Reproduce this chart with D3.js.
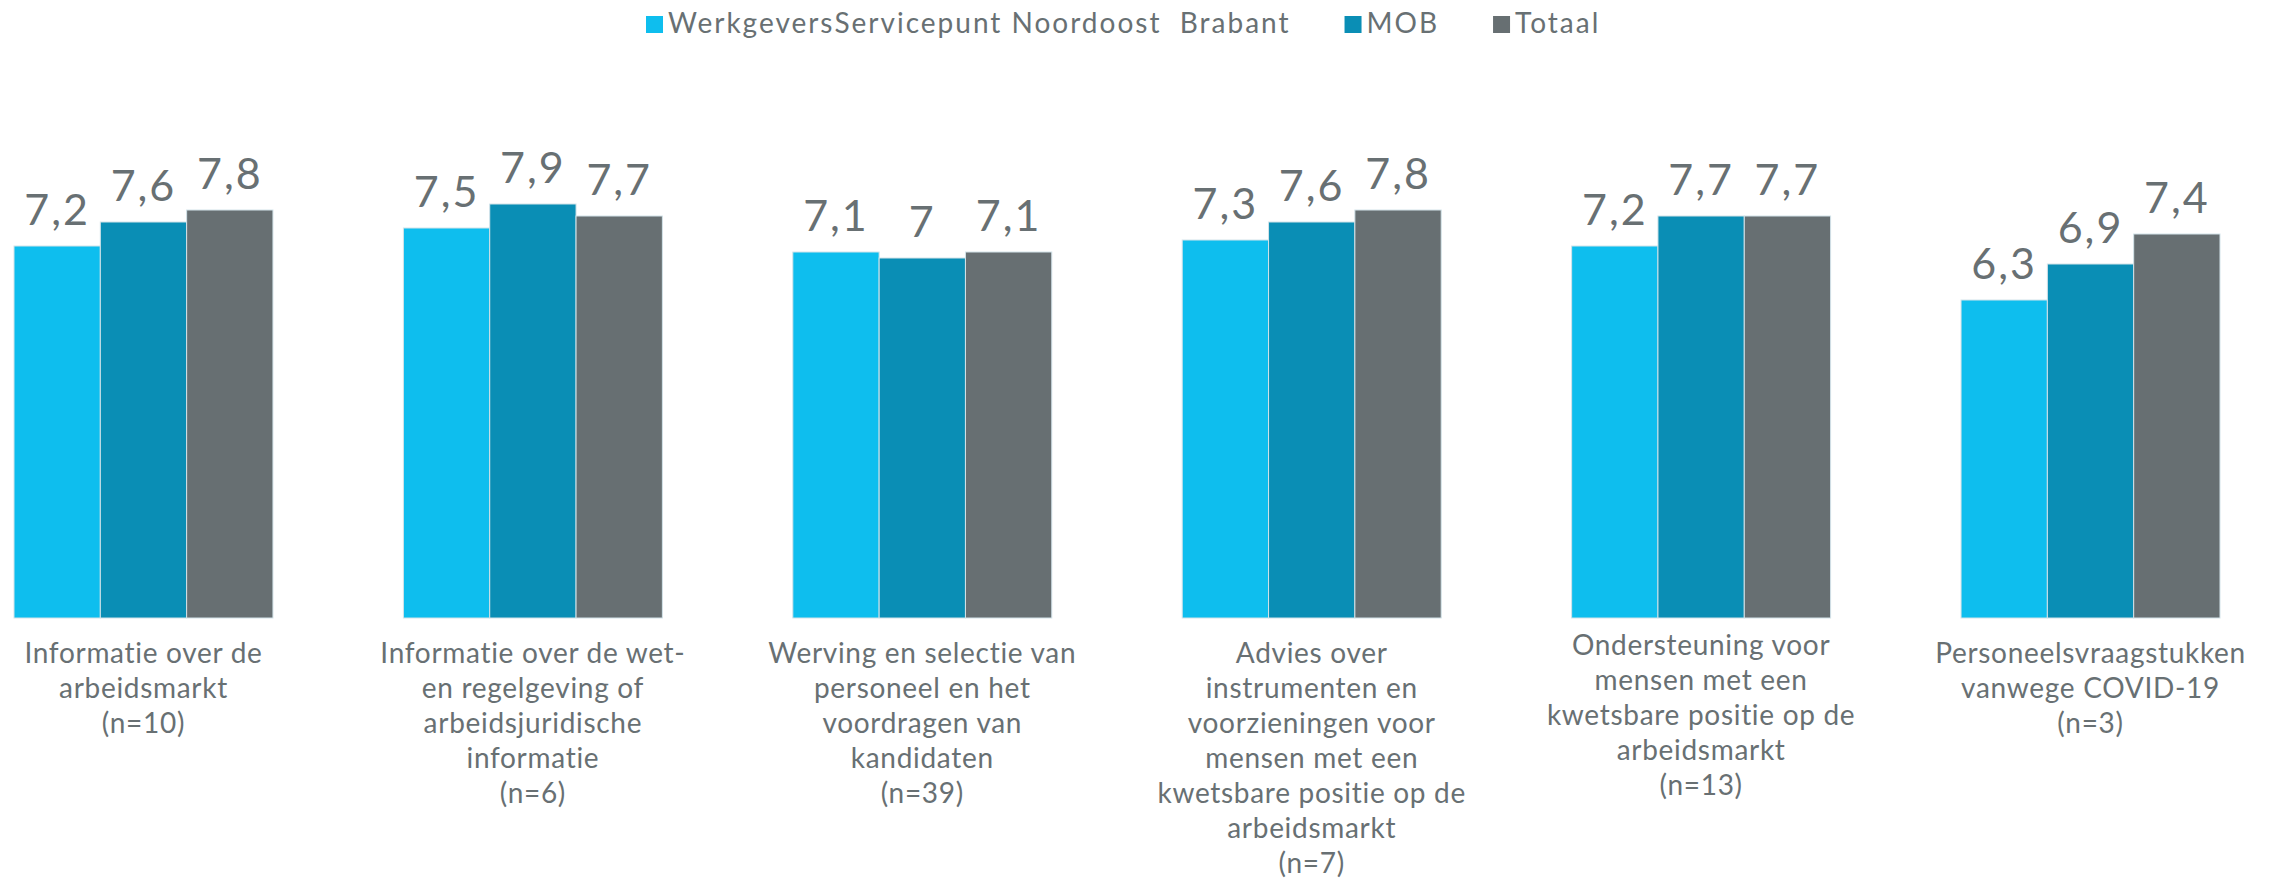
<!DOCTYPE html>
<html>
<head>
<meta charset="utf-8">
<script src="https://cdn.jsdelivr.net/npm/d3@7"></script>
<style>
  body { margin: 0; background: #fff; }
  text { font-family: Lato, "Open Sans", sans-serif; fill: #687073; }
</style>
</head>
<body>
<div id="chart"></div>
<script>
var width = 2279;
var height = 881;

// data
var categories = [
  ["Informatie over de", "arbeidsmarkt", "(n=10)"],
  ["Informatie over de wet-", "en regelgeving of", "arbeidsjuridische", "informatie", "(n=6)"],
  ["Werving en selectie van", "personeel en het", "voordragen van", "kandidaten", "(n=39)"],
  ["Advies over", "instrumenten en", "voorzieningen voor", "mensen met een", "kwetsbare positie op de", "arbeidsmarkt", "(n=7)"],
  ["Ondersteuning voor", "mensen met een", "kwetsbare positie op de", "arbeidsmarkt", "(n=13)"],
  ["Personeelsvraagstukken", "vanwege COVID-19", "(n=3)"]
];
var seriesNames = ["WerkgeversServicepunt Noordoost  Brabant", "MOB", "Totaal"];
var wsp    = [7.2, 7.5, 7.1, 7.3, 7.2, 6.3];
var mob    = [7.6, 7.9, 7.0, 7.6, 7.7, 6.9];
var totaal = [7.8, 7.7, 7.1, 7.8, 7.7, 7.4];
var colors = ["#0ebeee", "#0a8eb5", "#676f72"];

var seriesValues = [wsp, mob, totaal];
var idx = d3.range(categories.length);

var nl = d3.formatLocale({decimal: ",", thousands: ".", grouping: [3], currency: ["€", ""]});
var fmt = nl.format("~f");

var svg = d3.select("#chart").append("svg")
    .attr("width", width)
    .attr("height", height);

var x0 = d3.scaleBand()
    .domain(idx)
    .range([14, 2220])
    .paddingInner(0.335)
    .paddingOuter(0);
var x1 = d3.scaleBand()
    .domain(d3.range(seriesNames.length))
    .range([0, x0.bandwidth()]);
var y = d3.scaleLinear()
    .domain([1, 10])
    .range([618, 78]);

var groups = svg.selectAll("g.group")
    .data(idx)
    .enter()
    .append("g")
    .attr("class", "group")
    .attr("transform", function(i) { return "translate(" + x0(i) + ",0)"; });

var cells = groups.selectAll("g.cell")
    .data(function(i) {
      return seriesValues.map(function(vals, s) { return {s: s, v: vals[i]}; });
    })
    .enter()
    .append("g");

cells.append("rect")
    .attr("x", function(d) { return x1(d.s); })
    .attr("width", x1.bandwidth())
    .attr("y", function(d) { return y(d.v); })
    .attr("height", function(d) { return y.range()[0] - y(d.v); })
    .attr("fill", function(d) { return colors[d.s]; })
    .attr("stroke", "#d3e3e9")
    .attr("stroke-width", 1);

cells.append("text")
    .attr("x", function(d) { return x1(d.s) + x1.bandwidth() / 2; })
    .attr("y", function(d) { return y(d.v) - 21; })
    .attr("text-anchor", "middle")
    .style("font-size", "43px")
    .style("letter-spacing", "2px")
    .text(function(d) { return fmt(d.v); });

// category labels under the groups
var lineHeight = 35;
groups.append("text")
    .attr("text-anchor", "middle")
    .style("font-size", "28px")
    .style("letter-spacing", "0.7px")
    .attr("transform", function(i) {
      var nudge = i === 4 ? -8 : 0; // that one sits a bit higher in the original
      return "translate(" + (x0.bandwidth() / 2) + "," + (663 + nudge) + ")";
    })
    .selectAll("tspan")
    .data(function(i) { return categories[i]; })
    .enter()
    .append("tspan")
    .attr("x", 0)
    .attr("dy", function(d, j) { return j === 0 ? 0 : lineHeight; })
    .text(function(d) { return d; });

// legend
var legend = svg.append("g").attr("transform", "translate(646,0)");
var lx = 0;
seriesNames.forEach(function(name, s) {
  legend.append("rect")
    .attr("x", lx)
    .attr("y", 16)
    .attr("width", 17)
    .attr("height", 17)
    .attr("fill", colors[s]);
  var t = legend.append("text")
    .attr("x", lx + 22)
    .attr("y", 33)
    .style("font-size", "28px")
    .style("letter-spacing", "2px")
    .style("white-space", "pre")
    .text(name);
  lx += 22 + t.node().getComputedTextLength() + 54;
});
</script>
</body>
</html>
